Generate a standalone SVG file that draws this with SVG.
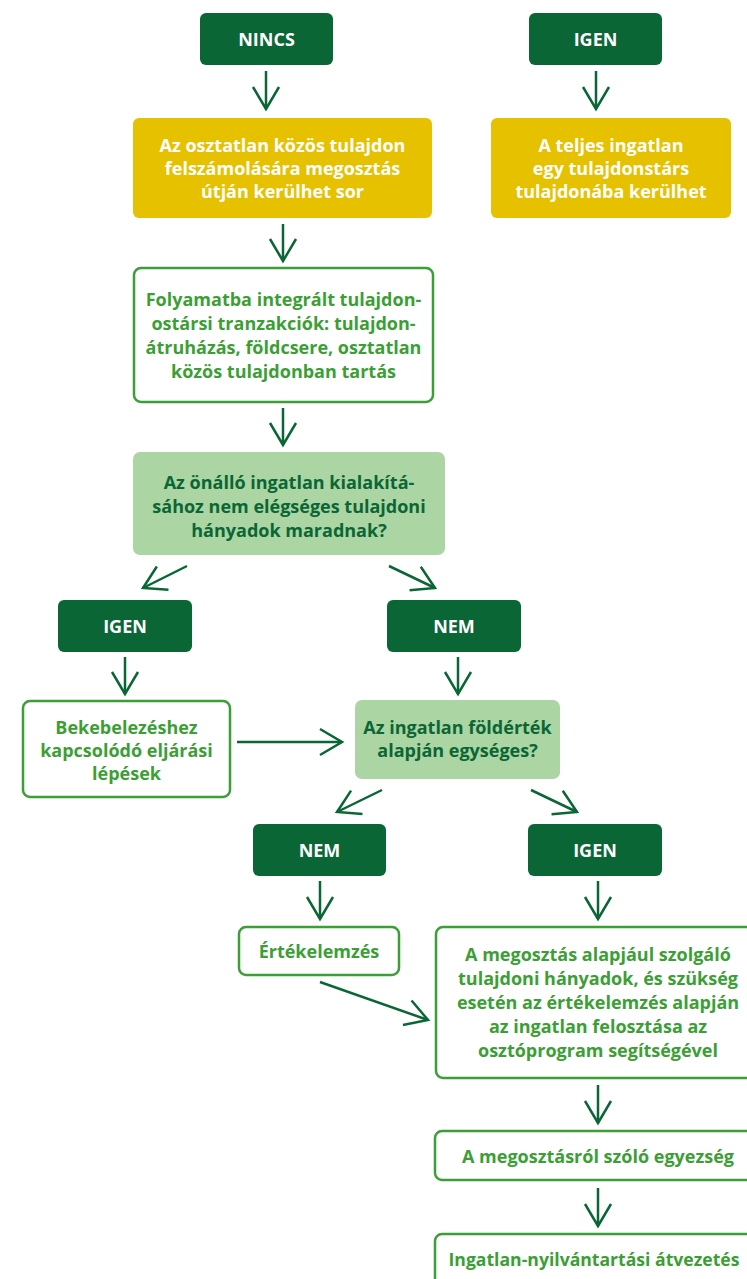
<svg xmlns="http://www.w3.org/2000/svg" width="747" height="1279" viewBox="0 0 747 1279">
  <defs>
    <style>
      .dark { fill: #0b6635; }
      .yellow { fill: #e6c100; }
      .pale { fill: #abd5a3; }
      .outline { fill: #ffffff; stroke: #3b9f35; stroke-width: 2.5; }
      text { font-family: "Open Sans", "Liberation Sans", sans-serif; font-weight: 700; font-size: 18px; text-anchor: middle; }
      .tw { fill: #ffffff; }
      .tg { fill: #3b9f35; }
      .td { fill: #0b6635; }
      .conn { stroke: #0b6635; stroke-width: 2.5; fill: none; marker-end: url(#chev); }
    </style>
    <marker id="chev" markerUnits="userSpaceOnUse" viewBox="-26 -16 30 32" markerWidth="30" markerHeight="32" refX="0" refY="0" orient="auto">
      <path d="M-22,-13 L0,0 L-22,13" fill="none" stroke="#0b6635" stroke-width="2.5"/>
    </marker>
  </defs>

  <!-- connectors -->
  <g id="connectors">
    <line class="conn" x1="266" y1="71" x2="266" y2="109"/>
    <line class="conn" x1="596" y1="71" x2="596" y2="109"/>
    <line class="conn" x1="283" y1="224" x2="283" y2="261"/>
    <line class="conn" x1="283" y1="408" x2="283" y2="445"/>
    <line class="conn" x1="187" y1="566" x2="143" y2="588"/>
    <line class="conn" x1="389" y1="566" x2="435" y2="588"/>
    <line class="conn" x1="125" y1="657" x2="125" y2="694"/>
    <line class="conn" x1="458" y1="657" x2="458" y2="694"/>
    <line class="conn" x1="237" y1="742" x2="342" y2="742"/>
    <line class="conn" x1="382" y1="790" x2="337" y2="812"/>
    <line class="conn" x1="531" y1="790" x2="577" y2="812"/>
    <line class="conn" x1="320" y1="881" x2="320" y2="919"/>
    <line class="conn" x1="598" y1="881" x2="598" y2="919"/>
    <line class="conn" x1="320" y1="982" x2="428" y2="1020"/>
    <line class="conn" x1="598" y1="1085" x2="598" y2="1123"/>
    <line class="conn" x1="598" y1="1188" x2="598" y2="1226"/>
  </g>

  <g id="nincs">
    <rect class="dark" x="200" y="13" width="133" height="52" rx="6"/>
    <text class="tw" x="266.5" y="46">NINCS</text>
  </g>
  <g id="igen-top">
    <rect class="dark" x="529" y="13" width="133" height="52" rx="6"/>
    <text class="tw" x="595.5" y="46">IGEN</text>
  </g>

  <g id="megosztas-utjan">
    <rect class="yellow" x="133" y="118" width="299" height="100" rx="6"/>
    <text class="tw" x="282.5" y="152">Az osztatlan közös tulajdon</text>
    <text class="tw" x="282.5" y="175">felszámolására megosztás</text>
    <text class="tw" x="282.5" y="198">útján kerülhet sor</text>
  </g>
  <g id="teljes-ingatlan">
    <rect class="yellow" x="491" y="118" width="240" height="100" rx="6"/>
    <text class="tw" x="611" y="152">A teljes ingatlan</text>
    <text class="tw" x="611" y="175">egy tulajdonstárs</text>
    <text class="tw" x="611" y="198">tulajdonába kerülhet</text>
  </g>

  <g id="tranzakciok">
    <rect class="outline" x="134" y="268" width="299" height="134" rx="7"/>
    <text class="tg" x="283.5" y="306">Folyamatba integrált tulajdon-</text>
    <text class="tg" x="283.5" y="330">ostársi tranzakciók: tulajdon-</text>
    <text class="tg" x="283.5" y="354">átruházás, földcsere, osztatlan</text>
    <text class="tg" x="283.5" y="378">közös tulajdonban tartás</text>
  </g>

  <g id="kerdes-hanyadok">
    <rect class="pale" x="133" y="452" width="312" height="103" rx="7"/>
    <text class="td" x="289" y="489">Az önálló ingatlan kialakítá-</text>
    <text class="td" x="289" y="513">sához nem elégséges tulajdoni</text>
    <text class="td" x="289" y="537">hányadok maradnak?</text>
  </g>

  <g id="igen-mid">
    <rect class="dark" x="58" y="600" width="134" height="52" rx="6"/>
    <text class="tw" x="125" y="633">IGEN</text>
  </g>
  <g id="nem-mid">
    <rect class="dark" x="387" y="600" width="134" height="52" rx="6"/>
    <text class="tw" x="454" y="633">NEM</text>
  </g>

  <g id="bekebelezes">
    <rect class="outline" x="23" y="701" width="207" height="96" rx="7"/>
    <text class="tg" x="126.5" y="734">Bekebelezéshez</text>
    <text class="tg" x="126.5" y="757">kapcsolódó eljárási</text>
    <text class="tg" x="126.5" y="780">lépések</text>
  </g>

  <g id="kerdes-foldertek">
    <rect class="pale" x="355" y="700" width="205" height="79" rx="7"/>
    <text class="td" x="457.5" y="734">Az ingatlan földérték</text>
    <text class="td" x="457.5" y="757">alapján egységes?</text>
  </g>

  <g id="nem-low">
    <rect class="dark" x="253" y="824" width="133" height="52" rx="6"/>
    <text class="tw" x="319.5" y="857">NEM</text>
  </g>
  <g id="igen-low">
    <rect class="dark" x="528" y="824" width="134" height="52" rx="6"/>
    <text class="tw" x="595" y="857">IGEN</text>
  </g>

  <g id="ertekelemzes">
    <rect class="outline" x="239" y="927" width="160" height="48" rx="7"/>
    <text class="tg" x="319" y="958">Értékelemzés</text>
  </g>

  <g id="felosztas">
    <rect class="outline" x="436" y="927" width="325" height="151" rx="7"/>
    <text class="tg" x="598" y="961">A megosztás alapjául szolgáló</text>
    <text class="tg" x="598" y="985">tulajdoni hányadok, és szükség</text>
    <text class="tg" x="598" y="1009">esetén az értékelemzés alapján</text>
    <text class="tg" x="598" y="1033">az ingatlan felosztása az</text>
    <text class="tg" x="598" y="1057">osztóprogram segítségével</text>
  </g>

  <g id="egyezseg">
    <rect class="outline" x="435" y="1131" width="326" height="49" rx="7"/>
    <text class="tg" x="598" y="1163">A megosztásról szóló egyezség</text>
  </g>

  <g id="atvezetes">
    <rect class="outline" x="435" y="1234" width="326" height="60" rx="7"/>
    <text class="tg" x="594" y="1266" style="font-size:17.6px">Ingatlan-nyilvántartási átvezetés</text>
  </g>
</svg>
